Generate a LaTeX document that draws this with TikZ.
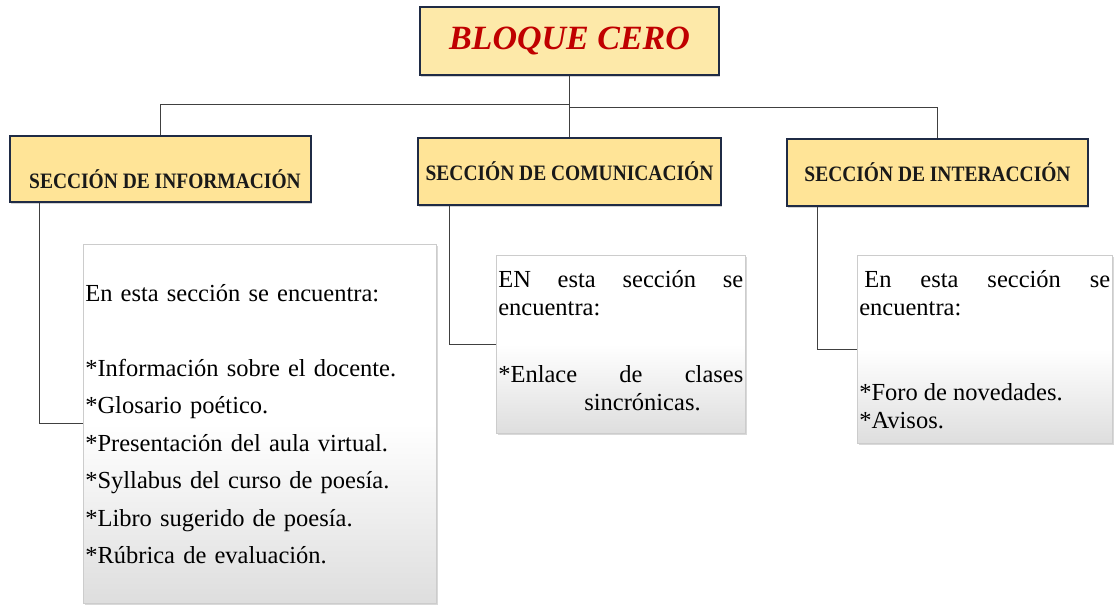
\documentclass[tikz,border=0pt]{standalone}
\usepackage{fontspec}
\setmainfont{Liberation Serif}
\newfontfamily\headfont[FakeStretch=0.885]{Liberation Serif}
\usetikzlibrary{shadows}
\definecolor{titlefill}{HTML}{FDE9A9}
\definecolor{headfill}{HTML}{FFE497}
\definecolor{boxline}{HTML}{1F2B45}
\definecolor{titlered}{HTML}{C00000}
\begin{document}
\begin{tikzpicture}[x=1pt,y=-1pt]
\tikzstyle{every node}+=[inner sep=0pt]
\tikzstyle{headtext}=[text=black!90, font=\headfont\bfseries\fontsize{22}{26}\selectfont]
\tikzstyle{headbox}=[headtext, draw=boxline, line width=1.3pt, fill=headfill, minimum width=301pt, minimum height=66pt, drop shadow={shadow xshift=1pt, shadow yshift=-2pt, opacity=0.35}]
\tikzstyle{textbox}=[draw=black!20, line width=0.6pt, top color=white, bottom color=black!13, middle color=white, drop shadow={shadow xshift=2pt, shadow yshift=-2pt, opacity=0.3}, anchor=north west, inner xsep=2pt, inner ysep=0pt, font=\fontsize{24.5}{28}\selectfont]
\tikzstyle{link}=[draw=black!75, line width=1pt]
\useasboundingbox (0,0) rectangle (1119,605);
\node [draw=boxline, line width=1.3pt, fill=titlefill, minimum width=299pt, minimum height=68pt, drop shadow={shadow xshift=1pt, shadow yshift=-2pt, opacity=0.35}, text=titlered, font=\bfseries\itshape\fontsize{34}{40}\selectfont] (bloque) at (569.5,41) {BLOQUE CERO};
\node [headbox, label={[headtext, xshift=4.5pt, yshift=-10pt]center:SECCIÓN DE INFORMACIÓN}] (informacion) at (160.5,169) {};
\node [headbox, minimum width=303pt, minimum height=67pt] (comunicacion) at (569.5,171.5) {SECCIÓN DE COMUNICACIÓN};
\node [headbox, minimum height=67pt] (interaccion) at (937.5,172.5) {SECCIÓN DE INTERACCIÓN};
\node [textbox, text width=349pt, align=left, font=\fontsize{24.5}{37.5}\selectfont] (informaciontxt) at (83,244) {\rule{0pt}{57pt}En esta sección se encuentra:\\[37.5pt]{}*Información sobre el docente.\\{}*Glosario poético.\\{}*Presentación del aula virtual.\\{}*Syllabus del curso de poesía.\\{}*Libro sugerido de poesía.\\{}*Rúbrica de evaluación.\rule[-39pt]{0pt}{39pt}};
\node [textbox, text width=245pt, align=justify] (comunicaciontxt) at (496,255) {\rule{0pt}{32pt}EN esta sección se\linebreak encuentra:\\[39pt]{}*Enlace de clases\linebreak\hspace*{86pt}sincrónicas.\rule[-23pt]{0pt}{23pt}};
\node [textbox, text width=251pt, align=justify] (interacciontxt) at (857,255) {\rule{0pt}{32pt}\hspace*{5pt}En esta sección se\linebreak encuentra:\\[57pt]{}*Foro de novedades.\\{}*Avisos.\rule[-15pt]{0pt}{15pt}};
\draw [link] (bloque.south) -- ++(0,29) -| (informacion.north);
\draw [link] (bloque.south) -- (comunicacion.north);
\draw [link] (bloque.south) -- ++(0,32) -| (interaccion.north);
\draw [link] ([xshift=30pt]informacion.south west) |- (informaciontxt.west);
\draw [link] ([xshift=32pt]comunicacion.south west) |- (comunicaciontxt.west);
\draw [link] ([xshift=31pt]interaccion.south west) |- (interacciontxt.west);
\end{tikzpicture}
\end{document}
